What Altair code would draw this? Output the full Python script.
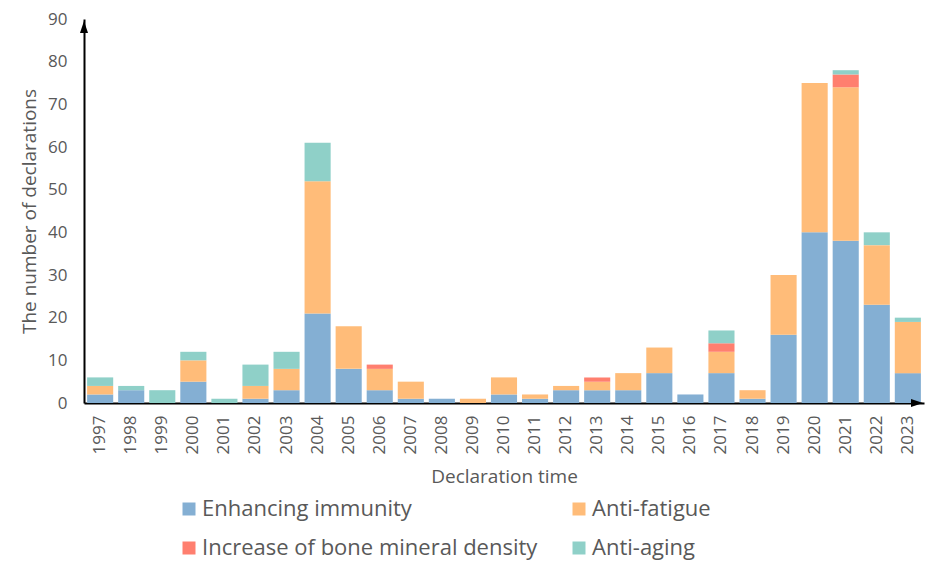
import altair as alt
import pandas as pd

years = [str(y) for y in range(1997, 2024)]
immunity = [2, 3, 0, 5, 0, 1, 3, 21, 8, 3, 1, 1, 0, 2, 1, 3, 3, 3, 7, 2, 7, 1, 16, 40, 38, 23, 7]
fatigue  = [2, 0, 0, 5, 0, 3, 5, 31, 10, 5, 4, 0, 1, 4, 1, 1, 2, 4, 6, 0, 5, 2, 14, 35, 36, 14, 12]
bone     = [0, 0, 0, 0, 0, 0, 0, 0, 0, 1, 0, 0, 0, 0, 0, 0, 1, 0, 0, 0, 2, 0, 0, 0, 3, 0, 0]
aging    = [2, 1, 3, 2, 1, 5, 4, 9, 0, 0, 0, 0, 0, 0, 0, 0, 0, 0, 0, 0, 3, 0, 0, 0, 1, 3, 1]

series = ["Enhancing immunity", "Anti-fatigue", "Increase of bone mineral density", "Anti-aging"]
colors = ["#84AFD3", "#FFBC79", "#FF7F6F", "#8FD0C8"]
y_ticks = [0, 10, 20, 30, 40, 50, 60, 70, 80, 90]

rows = []
for k, (name, vals) in enumerate(zip(series, [immunity, fatigue, bone, aging])):
    for yr, v in zip(years, vals):
        rows.append({"year": yr, "series": name, "value": v, "order": k})
df = pd.DataFrame(rows)

FONT = "Open Sans"
GRAY = "#595959"

bars = alt.Chart(df).mark_bar().encode(
    x=alt.X("year:N", sort=years,
            scale=alt.Scale(paddingInner=0.16, paddingOuter=0.1),
            axis=alt.Axis(title="Declaration time", labelAngle=-90, ticks=False, tickSize=0,
                          labelPadding=12, titlePadding=14, domainColor="black", domainWidth=2,
                          labelFontSize=17, titleFontSize=19, labelColor=GRAY, titleColor=GRAY,
                          labelFont=FONT, titleFont=FONT, titleFontWeight="normal")),
    y=alt.Y("value:Q", stack="zero",
            scale=alt.Scale(domain=[0, 90], nice=False),
            axis=alt.Axis(title="The number of declarations", values=y_ticks, ticks=False, tickSize=0,
                          grid=False, labelPadding=17, titlePadding=8, domainColor="black", domainWidth=2,
                          labelFontSize=17, titleFontSize=19, labelColor=GRAY, titleColor=GRAY,
                          labelFont=FONT, titleFont=FONT, titleFontWeight="normal")),
    color=alt.Color("series:N", sort=series,
                    scale=alt.Scale(domain=series, range=colors),
                    legend=alt.Legend(title=None, orient="none", legendX=94, legendY=479,
                                      columns=2, direction="horizontal", symbolType="square",
                                      symbolSize=169, symbolStrokeWidth=0, labelFontSize=22,
                                      labelFont=FONT, labelColor=GRAY, labelOffset=2,
                                      rowPadding=17, columnPadding=30, padding=0,
                                      labelLimit=500)),
    order=alt.Order("order:Q", sort="ascending"),
)

y_arrow = alt.Chart(alt.Data(values=[{"a": 1}])).mark_point(
    shape="M0,-1L0.67,1L-0.67,1Z", filled=True, color="black", opacity=1, size=144, strokeWidth=0
).encode(x=alt.value(0), y=alt.value(8))

x_arrow = alt.Chart(alt.Data(values=[{"a": 1}])).mark_point(
    shape="M1,0L-1,-0.67L-1,0.67Z", filled=True, color="black", opacity=1, size=144, strokeWidth=0
).encode(x=alt.value(833), y=alt.value(384))

chart = alt.layer(bars, y_arrow, x_arrow).properties(
    width=840, height=384,
    autosize=alt.AutoSizeParams(type="none"),
    padding={"left": 76, "top": 11, "right": 8, "bottom": 170},
).configure_view(stroke=None)

chart.save("out.html", embed_options={"renderer": "svg", "actions": False})
